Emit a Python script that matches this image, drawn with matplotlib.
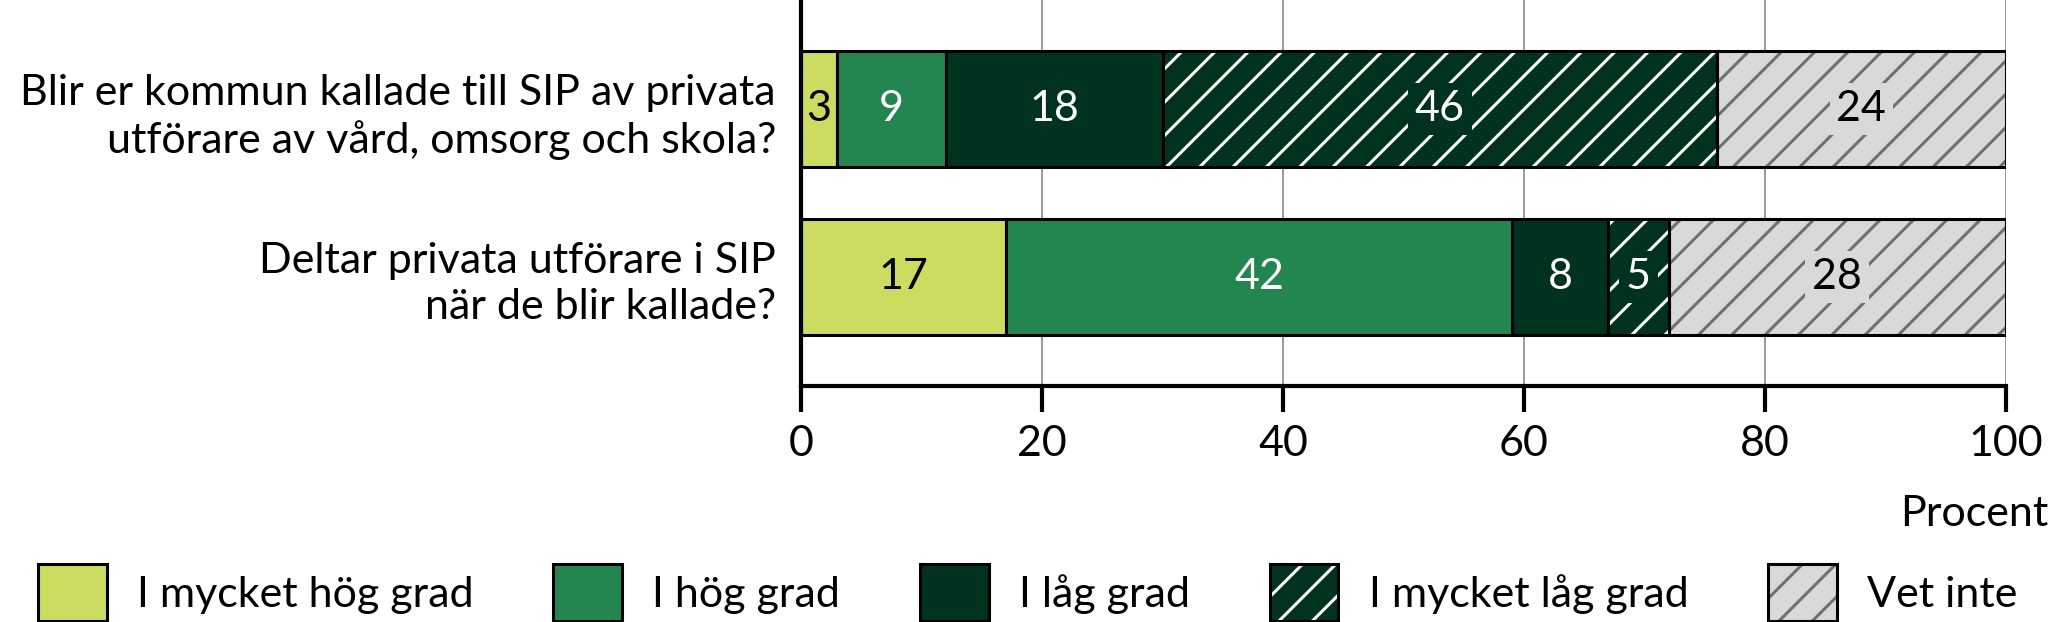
import numpy as np
import matplotlib
matplotlib.use("Agg")
import matplotlib.pyplot as plt
from matplotlib.patches import Patch

plt.rcParams["font.family"] = ["Lato", "DejaVu Sans"]
plt.rcParams["hatch.linewidth"] = 1.1

questions = ["Blir er kommun kallade till SIP av privata\nutförare av vård, omsorg och skola?",
             "Deltar privata utförare i SIP\nnär de blir kallade?"]
categories = ["I mycket hög grad", "I hög grad", "I låg grad", "I mycket låg grad", "Vet inte"]
values = {
    "I mycket hög grad": [3, 17],
    "I hög grad": [9, 42],
    "I låg grad": [18, 8],
    "I mycket låg grad": [46, 5],
    "Vet inte": [24, 28],
}
colors = ["#cbdc60", "#23854f", "#003220", "#003220", "#d9d9d9"]
hatches = [None, None, None, "//", "//"]
hatch_colors = [None, None, None, "white", "#707070"]
text_colors = ["black", "white", "white", "white", "black"]
xticks = [0, 20, 40, 60, 80, 100]

fs = 15.5
fig = plt.figure(figsize=(2049 / 200, 622 / 200), dpi=200)
ax = fig.add_axes([801 / 2049, 1 - 386 / 622, (2006 - 801) / 2049, 386 / 622])

y = np.arange(len(questions))
h = 0.69
left = np.zeros(len(questions))
handles = []
for i, cat in enumerate(categories):
    vals = np.array(values[cat], dtype=float)
    if hatches[i]:
        # hatch drawn in its own colour, black outline on top
        ax.barh(y, vals, left=left, height=h, color=colors[i], hatch=hatches[i],
                edgecolor=hatch_colors[i], linewidth=0, zorder=2)
        bars = ax.barh(y, vals, left=left, height=h, facecolor="none",
                       edgecolor="black", linewidth=1.1, zorder=3)
        handles.append((Patch(facecolor=colors[i], hatch=hatches[i], edgecolor=hatch_colors[i], linewidth=0),
                        Patch(facecolor="none", edgecolor="black", linewidth=1.1)))
    else:
        bars = ax.barh(y, vals, left=left, height=h, color=colors[i],
                       edgecolor="black", linewidth=1.1, zorder=2)
        handles.append(Patch(facecolor=colors[i], edgecolor="black", linewidth=1.1))
    labels = ax.bar_label(bars, labels=[str(int(v)) for v in vals], label_type="center",
                          color=text_colors[i], fontsize=fs, zorder=4)
    if hatches[i]:
        for t in labels:
            t.set_bbox(dict(facecolor=colors[i], edgecolor="none", pad=2.5))
    left += vals

ax.set_xlim(0, 100)
ax.set_ylim(1.649, -0.649)
ax.set_xticks(xticks)
ax.set_xticklabels([str(t) for t in xticks], fontsize=fs)
ax.set_yticks(y)
ax.set_yticklabels(questions, fontsize=fs, linespacing=1.25)
ax.tick_params(axis="y", length=0, pad=9)
ax.tick_params(axis="x", length=9.5, width=1.5, pad=4.5)
ax.grid(axis="x", color="#999999", linewidth=0.7, zorder=0)
ax.set_axisbelow(True)
for s in ["top", "right"]:
    ax.spines[s].set_visible(False)
for s in ["left", "bottom"]:
    ax.spines[s].set_linewidth(1.5)

fig.text(0.9995, 1 - 526 / 622, "Procent", ha="right", va="baseline", fontsize=fs)

fig.legend(handles, categories, ncol=5, loc="lower left", bbox_to_anchor=(38 / 2049, 1 / 622),
           frameon=False, fontsize=fs, handlelength=1.6, handleheight=1.65,
           handletextpad=0.7, columnspacing=1.85, borderaxespad=0, borderpad=0)

fig.savefig("out.png", dpi=200)
